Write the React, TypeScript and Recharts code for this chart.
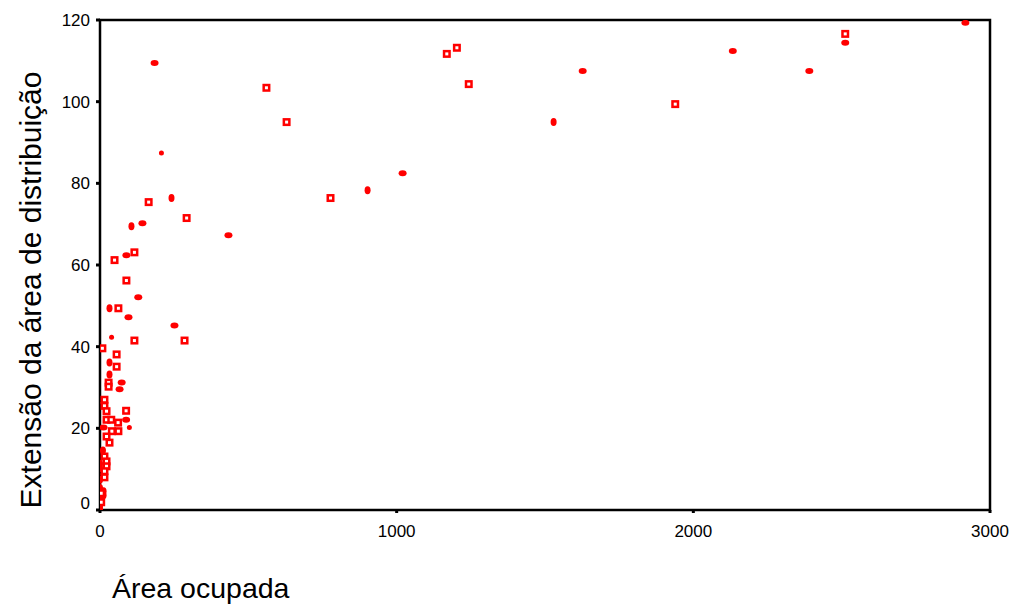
import React from 'react';
import { ScatterChart, Scatter, XAxis, YAxis, ReferenceArea, Label } from 'recharts';

// Hollow-square markers (x = área ocupada, y = extensão)
const hollowX = [561, 629, 777, 164, 292, 49, 116, 89, 1169, 1203, 1243, 1939, 2512, 62, 116, 285, 8, 56, 56, 29, 29, 15, 15, 22, 88, 22, 38, 61, 40, 62, 22, 32, 15, 22, 22, 15, 15, 4, 4];
const hollowY = [103.4, 95.0, 76.4, 75.4, 71.5, 61.2, 63.1, 56.2, 111.7, 113.2, 104.3, 99.4, 116.6, 49.4, 41.5, 41.5, 39.6, 38.1, 35.1, 31.2, 30.2, 27.0, 25.5, 24.2, 24.3, 22.1, 22.1, 21.4, 19.3, 19.3, 18.0, 16.5, 13.1, 11.9, 10.7, 9.5, 8.0, 4.1, 1.9];

// Overlapping (filled-looking) markers; kind: h = wide blob, v = tall blob, s = small dot
const filledX = [184, 207, 1020, 902, 241, 106, 143, 433, 89, 1627, 1529, 2133, 2391, 2512, 2917, 129, 32, 96, 251, 39, 32, 32, 73, 66, 88, 99, 12, 10, 0, 0, 0, 0, 0, 0, 12, 12, 0, 0];
const filledY = [109.5, 87.4, 82.5, 78.3, 76.4, 69.5, 70.2, 67.3, 62.4, 107.5, 95.0, 112.4, 107.5, 114.4, 119.3, 52.1, 49.4, 47.2, 45.2, 42.3, 36.1, 33.2, 31.2, 29.6, 22.1, 20.2, 20.2, 14.6, 11.3, 10.3, 7.4, 5.4, 2.7, 1.1, 4.6, 3.6, 4.0, 0.3];
const filledKind = ['h', 's', 'h', 'v', 'v', 'v', 'h', 'h', 'h', 'h', 'v', 'h', 'h', 'h', 'h', 'h', 'v', 'h', 'h', 's', 'v', 'v', 'h', 'h', 'h', 's', 'h', 'v', 'v', 'v', 'v', 'v', 'v', 'v', 'v', 'v', 'v', 'v'];

const xTicks = [0, 1000, 2000, 3000];
const yTicks = [0, 20, 40, 60, 80, 100, 120];

const xTitle = 'Área ocupada';
const yTitle = 'Extensão da área de distribuição';

const hollowData = hollowX.map((x, i) => ({ x, y: hollowY[i] }));
const filledData = filledX.map((x, i) => ({ x, y: filledY[i], k: filledKind[i] }));

const FONT = '"Liberation Sans", Arial, sans-serif';
const RED = '#ff0000';

const HollowShape = (props: any) => {
  const { cx, cy } = props;
  if (cx == null || cy == null) return null;
  return <rect x={cx - 2.75} y={cy - 2.75} width={5.5} height={5.5} fill="#ffffff" stroke={RED} strokeWidth={2.5} />;
};

const FilledShape = (props: any) => {
  const { cx, cy, payload } = props;
  if (cx == null || cy == null) return null;
  const k = payload?.k;
  if (k === 's') return <ellipse cx={cx} cy={cy} rx={2.5} ry={2.5} fill={RED} />;
  if (k === 'v') return <ellipse cx={cx} cy={cy} rx={3} ry={4} fill={RED} />;
  return <ellipse cx={cx} cy={cy} rx={4} ry={3} fill={RED} />;
};

const YTick = (props: any) => {
  const { x, y, payload } = props;
  const dy = payload.value === 0 ? -7 : 0;
  return (
    <text x={x - 4} y={y + dy} dy={6} textAnchor="end" fontFamily={FONT} fontSize={17} fill="#000">
      {payload.value}
    </text>
  );
};

const XTick = (props: any) => {
  const { x, y, payload } = props;
  return (
    <text x={x} y={y} dy={22} textAnchor="middle" fontFamily={FONT} fontSize={17} fill="#000">
      {payload.value}
    </text>
  );
};

export default function App() {
  return (
    <div style={{ position: 'absolute', left: 0, top: 0, background: '#fff' }}>
      <ScatterChart width={1014} height={605} margin={{ top: 20, right: 24, bottom: 0, left: 0 }}>
        <XAxis
          type="number"
          dataKey="x"
          domain={[0, 3000]}
          ticks={xTicks}
          axisLine={false}
          tickLine={{ stroke: '#000', strokeWidth: 3 }}
          tickSize={3}
          tick={<XTick />}
          height={95}
          allowDataOverflow
        >
          <Label
            content={() => (
              <text x={112} y={598} fontFamily={FONT} fontSize={28.5} fill="#000">
                {xTitle}
              </text>
            )}
          />
        </XAxis>
        <YAxis
          type="number"
          dataKey="y"
          domain={[0, 120]}
          ticks={yTicks}
          axisLine={false}
          tickLine={{ stroke: '#000', strokeWidth: 3 }}
          tickSize={4}
          tick={<YTick />}
          width={100}
          allowDataOverflow
        >
          <Label
            content={() => (
              <text
                x={41}
                y={290}
                transform="rotate(-90, 41, 290)"
                textAnchor="middle"
                fontFamily={FONT}
                fontSize={30}
                fill="#000"
              >
                {yTitle}
              </text>
            )}
          />
        </YAxis>
        <ReferenceArea x1={0} x2={3000} y1={0} y2={120} fill="none" stroke="#000" strokeWidth={2.5} fillOpacity={0} />
        <Scatter data={filledData} shape={<FilledShape />} isAnimationActive={false} />
        <Scatter data={hollowData} shape={<HollowShape />} isAnimationActive={false} />
      </ScatterChart>
    </div>
  );
}
